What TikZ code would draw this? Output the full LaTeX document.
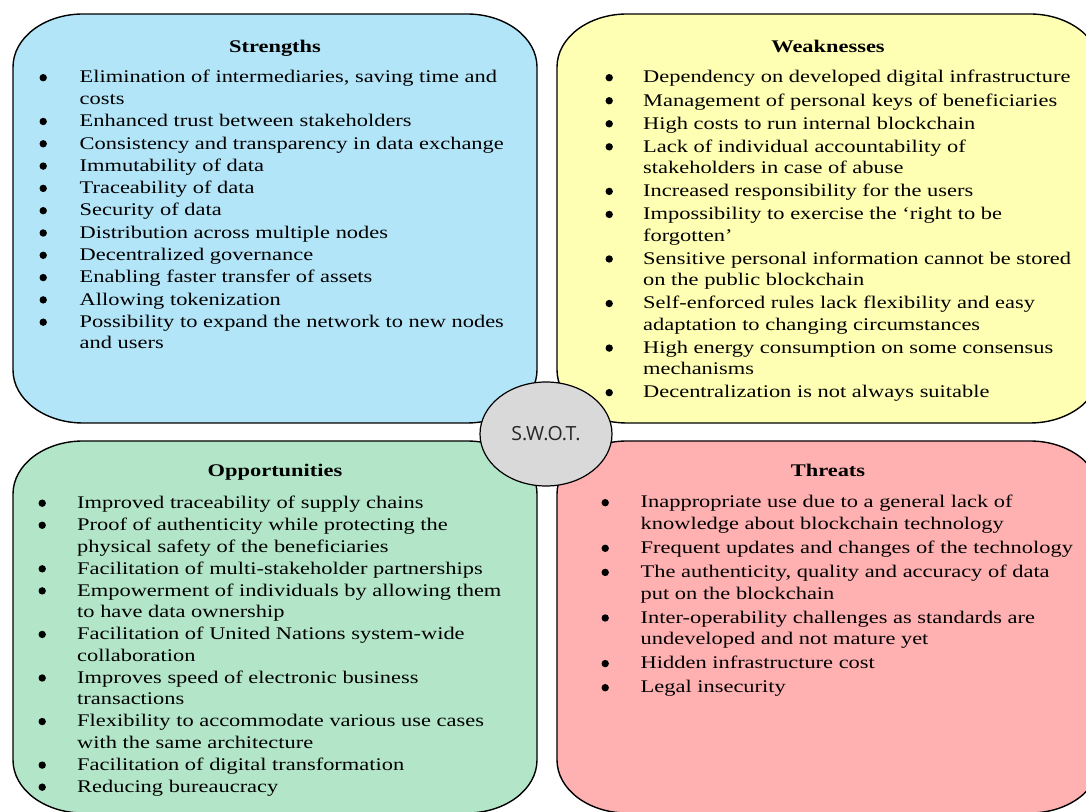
\documentclass[tikz,border=0pt]{standalone}
\usepackage{fontspec}
\setmainfont{Liberation Serif}[FakeStretch=1.26]
\newfontfamily\swotfont{Open Sans}
\usetikzlibrary{shapes.geometric}
\definecolor{sblue}{RGB}{179,229,248}
\definecolor{wyellow}{RGB}{255,255,179}
\definecolor{ogreen}{RGB}{179,230,201}
\definecolor{tpink}{RGB}{255,177,178}
\definecolor{cgray}{RGB}{217,217,217}
\newcommand\rbox[5]{%
  \filldraw[boxline, fill=#5] ({#1+70},#2) -- ({#3-70},#2)
    arc[start angle=90,end angle=0,x radius=70,y radius=53] -- (#3,{#4+53})
    arc[start angle=0,end angle=-90,x radius=70,y radius=53] -- ({#1+70},#4)
    arc[start angle=270,end angle=180,x radius=70,y radius=53] -- (#1,{#2-53})
    arc[start angle=180,end angle=90,x radius=70,y radius=53] -- cycle;}
\newcommand\bul{\hspace*{0.3pt}\raisebox{1.6pt}{\tikz[x=1pt,y=1pt]\fill[black] (0,0) circle[radius=3.7];}}
\tikzset{
  boxline/.style={draw=black, line width=1.4pt},
  titletext/.style={anchor=base, inner sep=0pt, font=\fontsize{17.8}{21.5}\selectfont\bfseries},
  listtext/.style={anchor=base west, inner sep=0pt, font=\fontsize{17.8}{21.5}\selectfont},
}
\begin{document}
\begin{tikzpicture}[x=1pt,y=1pt]
\useasboundingbox (0,0) rectangle (1086,811);
\clip (0,0) rectangle (1086,811);
\rbox{13}{797}{537}{388}{sblue}
\rbox{557}{797}{1100}{388}{wyellow}
\rbox{13}{370}{537}{-2}{ogreen}
\rbox{557}{370}{1100}{-2}{tpink}

\node[titletext] (stitle) at (275,758) {Strengths};
\node[titletext] (wtitle) at (828,758) {Weaknesses};
\node[titletext] (otitle) at (275,334) {Opportunities};
\node[titletext] (ttitle) at (828,334) {Threats};

\node[listtext] (slist) at (39,728) {\renewcommand\arraystretch{1}%
\begin{tabular}[t]{@{}p{40.5pt}@{}l@{}}
\bul & Elimination of intermediaries, saving time and\\
 & costs\\[0.8pt]
\bul & Enhanced trust between stakeholders\\[0.8pt]
\bul & Consistency and transparency in data exchange\\[0.8pt]
\bul & Immutability of data\\[0.8pt]
\bul & Traceability of data\\[0.8pt]
\bul & Security of data\\[0.8pt]
\bul & Distribution across multiple nodes\\[0.8pt]
\bul & Decentralized governance\\[0.8pt]
\bul & Enabling faster transfer of assets\\[0.8pt]
\bul & Allowing tokenization\\[0.8pt]
\bul & Possibility to expand the network to new nodes\\
 & and users
\end{tabular}};

\node[listtext] (wlist) at (605,728) {\renewcommand\arraystretch{1}%
\begin{tabular}[t]{@{}p{38pt}@{}l@{}}
\bul & Dependency on developed digital infrastructure\\[1.55pt]
\bul & Management of personal keys of beneficiaries\\[1.55pt]
\bul & High costs to run internal blockchain\\[1.55pt]
\bul & Lack of individual accountability of\\
 & stakeholders in case of abuse\\[1.55pt]
\bul & Increased responsibility for the users\\[1.55pt]
\bul & Impossibility to exercise the `right to be\\
 & forgotten'\\[1.55pt]
\bul & Sensitive personal information cannot be stored\\
 & on the public blockchain\\[1.55pt]
\bul & Self-enforced rules lack flexibility and easy\\
 & adaptation to changing circumstances\\[1.55pt]
\bul & High energy consumption on some consensus\\
 & mechanisms\\[1.55pt]
\bul & Decentralization is not always suitable
\end{tabular}};

\node[listtext] (olist) at (38,302.5) {\renewcommand\arraystretch{1}%
\begin{tabular}[t]{@{}p{39pt}@{}l@{}}
\bul & Improved traceability of supply chains\\[0.56pt]
\bul & Proof of authenticity while protecting the\\
 & physical safety of the beneficiaries\\[0.56pt]
\bul & Facilitation of multi-stakeholder partnerships\\[0.56pt]
\bul & Empowerment of individuals by allowing them\\
 & to have data ownership\\[0.56pt]
\bul & Facilitation of United Nations system-wide\\
 & collaboration\\[0.56pt]
\bul & Improves speed of electronic business\\
 & transactions\\[0.56pt]
\bul & Flexibility to accommodate various use cases\\
 & with the same architecture\\[0.56pt]
\bul & Facilitation of digital transformation\\[0.56pt]
\bul & Reducing bureaucracy
\end{tabular}};

\node[listtext] (tlist) at (601,303) {\renewcommand\arraystretch{1}%
\begin{tabular}[t]{@{}p{39.5pt}@{}l@{}}
\bul & Inappropriate use due to a general lack of\\
 & knowledge about blockchain technology\\[2.6pt]
\bul & Frequent updates and changes of the technology\\[2.6pt]
\bul & The authenticity, quality and accuracy of data\\
 & put on the blockchain\\[2.6pt]
\bul & Inter-operability challenges as standards are\\
 & undeveloped and not mature yet\\[2.6pt]
\bul & Hidden infrastructure cost\\[2.6pt]
\bul & Legal insecurity
\end{tabular}};

\node[ellipse, draw=black, line width=1.2pt, fill=cgray, minimum width=132pt,
      minimum height=104pt, inner sep=0pt, font=\swotfont\fontsize{19.5}{22}\selectfont,
      text=black!85] (swot) at (546,377) {S.W.O.T.};
\end{tikzpicture}
\end{document}
